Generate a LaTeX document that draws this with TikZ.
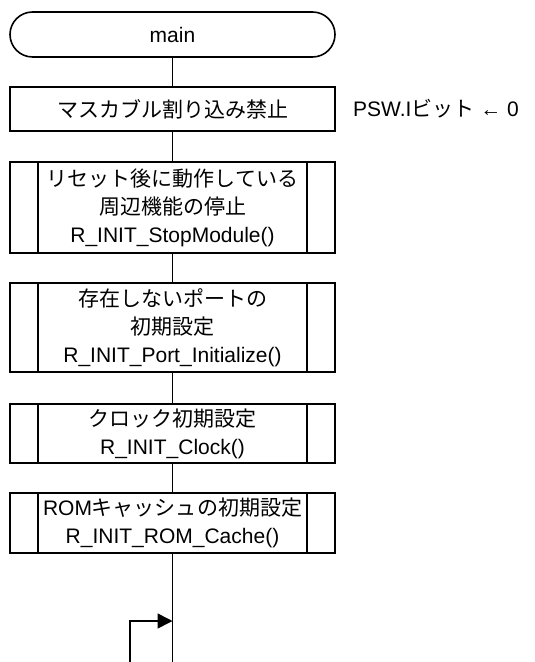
\documentclass[tikz,border=0pt]{standalone}
\usepackage{fontspec}
\setmainfont{Liberation Sans}
\newfontfamily\jpfont{Noto Sans CJK JP}
\usepackage{tikz}
\usetikzlibrary{positioning,calc,arrows.meta}

\tikzset{
    flowline/.style={line width=0.8pt},
    termbox/.style={draw, line width=0.8pt, rectangle, rounded corners=11.25pt, minimum width=162.5pt, minimum height=22.5pt, inner sep=0pt},
    procbox/.style={draw, line width=0.8pt, rectangle, minimum width=162.5pt, inner sep=0pt, align=center},
}

\begin{document}
\begin{tikzpicture}[x=0.5pt, y=-0.5pt, font=\fontsize{10.5}{14}\selectfont]
    \useasboundingbox (0,0) rectangle (534,662);

    % Start
    \node [termbox] (main) at (172.5, 34.5) {main};

    % Process steps
    \node [procbox, minimum height=22pt] (mask) at (172.5, 109) {\jpfont マスカブル割り込み禁止};
    \node [procbox, minimum height=45.5pt] (stop) at (172.5, 207.5) {{\jpfont リセット後に動作している}\\{\jpfont 周辺機能の停止}\\R\_INIT\_StopModule()};
    \node [procbox, minimum height=44.5pt] (port) at (172.5, 327.5) {{\jpfont 存在しないポートの}\\{\jpfont 初期設定}\\R\_INIT\_Port\_Initialize()};
    \node [procbox, minimum height=29.5pt] (clock) at (172.5, 433.5) {{\jpfont クロック初期設定}\\R\_INIT\_Clock()};
    \node [procbox, minimum height=30pt] (rom) at (172.5, 523) {ROM{\jpfont キャッシュの初期設定}\\R\_INIT\_ROM\_Cache()};

    % Note
    \node [anchor=west] (psw) at (346, 109) {PSW.I{\jpfont ビット} ← 0};

    % Sub-process side bars
    \foreach \n in {stop,port,clock,rom} {
        \draw [flowline] ([xshift=14.5pt]\n.north west) -- ([xshift=14.5pt]\n.south west);
        \draw [flowline] ([xshift=-14.5pt]\n.north east) -- ([xshift=-14.5pt]\n.south east);
    }

    % Connectors
    \coordinate (join) at (172.5, 621);
    \coordinate (bottom) at (172.5, 662);
    \coordinate (loopend) at (130, 662);
    \draw [flowline] (main) -- (mask);
    \draw [flowline] (mask) -- (stop);
    \draw [flowline] (stop) -- (port);
    \draw [flowline] (port) -- (clock);
    \draw [flowline] (clock) -- (rom);
    \draw [flowline] (rom) -- (bottom);
    \draw [flowline, -{Triangle[length=7.5pt, width=7.5pt]}] (loopend) |- (join);
\end{tikzpicture}
\end{document}
